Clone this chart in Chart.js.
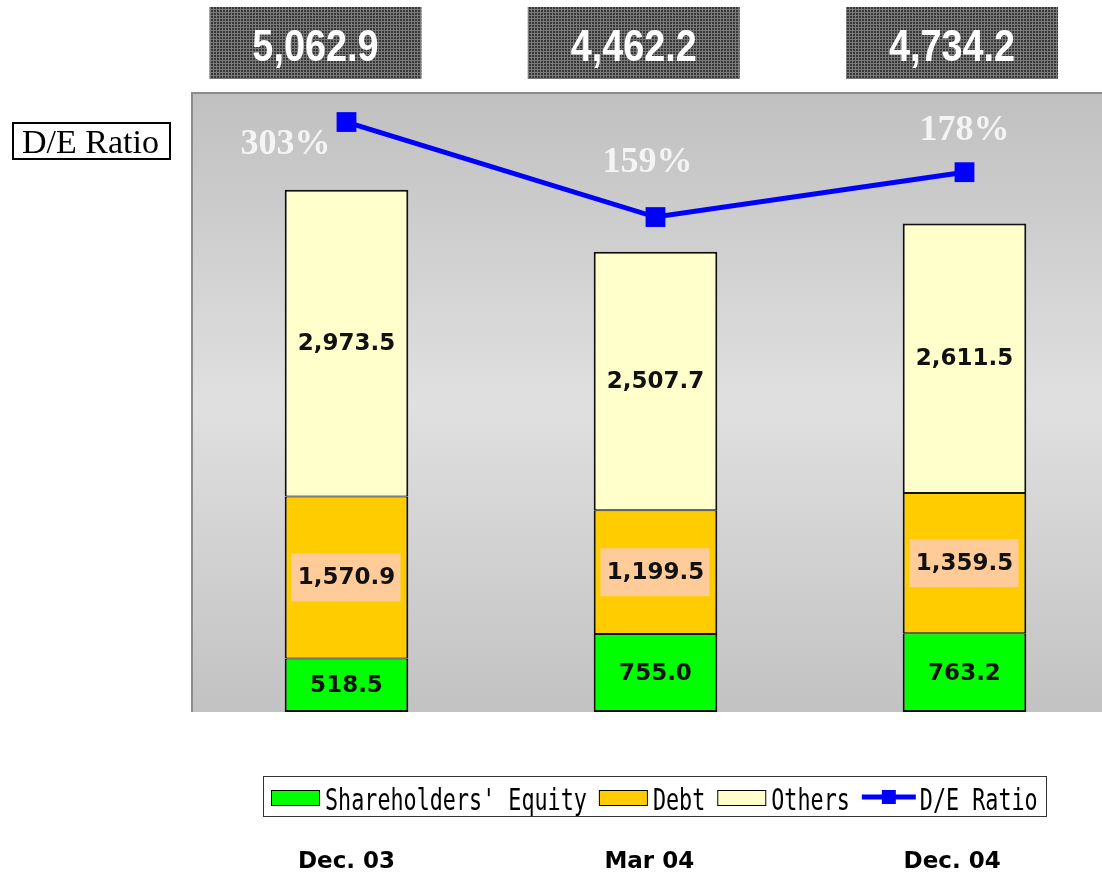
<!DOCTYPE html>
<html>
<head>
<meta charset="utf-8">
<title>D/E Ratio</title>
<script src="https://cdn.jsdelivr.net/npm/chart.js@4.4.1/dist/chart.umd.min.js"></script>
<style>
	html, body { margin: 0; padding: 0; background: #fff; overflow: hidden; }
</style>
</head>
<body>
<canvas id="deChart" width="1102" height="874"></canvas>
<script>
// values
const periods = ['Dec. 03', 'Mar 04', 'Dec. 04'];
const equity = [518.5, 755.0, 763.2];
const debt = [1570.9, 1199.5, 1359.5];
const others = [2973.5, 2507.7, 2611.5];
const ratioLabels = ['303%', '159%', '178%'];
// where the line points sit on the ratio axis
const ratioLine = [303, 159, 227];

function fmt(v)
{
	return v.toLocaleString('en-US', {minimumFractionDigits: 1, maximumFractionDigits: 1});
}

function points(arr)
{
	return arr.map(function(v, i) { return {x: i, y: v}; });
}

function ditherPattern(ctx)
{
	let c = document.createElement('canvas');
	c.width = 3;
	c.height = 3;
	let p = c.getContext('2d');
	p.fillStyle = '#383838';
	p.fillRect(0, 0, 3, 3);
	p.fillStyle = '#7a7a7a';
	p.fillRect(0, 0, 3, 1);
	p.fillRect(0, 0, 1, 3);
	return ctx.createPattern(c, 'repeat');
}

const plotBackground = {
	id: 'plotBackground',
	beforeDraw: function(chart)
	{
		let ctx = chart.ctx;
		let a = chart.chartArea;
		let g = ctx.createLinearGradient(0, a.top, 0, a.bottom);
		g.addColorStop(0, '#c0c0c0');
		g.addColorStop(0.5, '#e0e0e0');
		g.addColorStop(1, '#c2c2c2');
		ctx.save();
		ctx.fillStyle = g;
		ctx.fillRect(a.left, a.top, a.right - a.left, a.bottom - a.top);
		ctx.strokeStyle = '#8c8c8c';
		ctx.lineWidth = 2;
		ctx.beginPath();
		ctx.moveTo(a.left, a.bottom);
		ctx.lineTo(a.left, a.top);
		ctx.lineTo(a.right, a.top);
		ctx.stroke();
		ctx.restore();
	}
};

const segmentLabels = {
	id: 'segmentLabels',
	afterDatasetsDraw: function(chart)
	{
		let ctx = chart.ctx;
		ctx.save();
		ctx.font = 'bold 23px "DejaVu Sans"';
		ctx.textAlign = 'center';
		ctx.textBaseline = 'middle';
		chart.data.datasets.forEach(function(ds, di)
		{
			if (ds.type === 'line') return;
			chart.getDatasetMeta(di).data.forEach(function(bar, i)
			{
				let cy = (bar.y + bar.base) / 2;
				if (ds.label === 'Debt')
				{
					ctx.fillStyle = '#ffcc99';
					ctx.fillRect(bar.x - 55, cy - 24, 109, 48);
				}
				ctx.fillStyle = '#111';
				ctx.fillText(fmt(ds.data[i].y), bar.x, cy + 1);
			});
		});
		ctx.restore();
	}
};

const ratioText = {
	id: 'ratioText',
	afterDatasetsDraw: function(chart)
	{
		let ctx = chart.ctx;
		let meta = chart.getDatasetMeta(3);
		let place = [
			{dx: -16, dy: 32, align: 'right'},
			{dx: -8, dy: -45, align: 'center'},
			{dx: 0, dy: -32, align: 'center'}
		];
		ctx.save();
		ctx.font = 'bold 36px "Liberation Serif"';
		ctx.fillStyle = '#f4f4f4';
		ctx.textBaseline = 'alphabetic';
		meta.data.forEach(function(pt, i)
		{
			ctx.textAlign = place[i].align;
			ctx.fillText(ratioLabels[i], pt.x + place[i].dx, pt.y + place[i].dy);
		});
		ctx.restore();
	}
};

const decorations = {
	id: 'decorations',
	afterDraw: function(chart)
	{
		let ctx = chart.ctx;
		let x = chart.scales.x;
		let pattern = ditherPattern(ctx);
		ctx.save();

		// totals above the bars
		periods.forEach(function(p, i)
		{
			let total = equity[i] + debt[i] + others[i];
			let cx = x.getPixelForValue(i * 1.03) - 31;
			ctx.fillStyle = pattern;
			ctx.fillRect(cx - 106, 7, 212, 72);
			ctx.save();
			ctx.translate(cx, 61);
			ctx.scale(0.86, 1);
			ctx.font = 'bold 44px "Liberation Sans"';
			ctx.fillStyle = '#fff';
			ctx.textAlign = 'center';
			ctx.textBaseline = 'alphabetic';
			ctx.fillText(fmt(total), 0, 0);
			ctx.restore();
		});

		// category labels
		ctx.font = 'bold 23px "DejaVu Sans"';
		ctx.fillStyle = '#000';
		ctx.textAlign = 'center';
		ctx.textBaseline = 'alphabetic';
		chart.data.labels.forEach(function(lab, i)
		{
			ctx.fillText(lab, x.getPixelForValue(i * 0.98), 868);
		});

		// D/E Ratio tag
		ctx.strokeStyle = '#000';
		ctx.lineWidth = 2;
		ctx.strokeRect(13, 123, 157, 36);
		ctx.font = '34px "Liberation Serif"';
		ctx.textAlign = 'left';
		ctx.fillText('D/E Ratio', 22, 153);

		// legend
		ctx.lineWidth = 1;
		ctx.strokeStyle = '#333';
		ctx.strokeRect(263.5, 776.5, 783, 40);
		let cur = 271;
		let sx = 0.725;
		ctx.font = '30px "DejaVu Sans Mono"';
		[0, 1, 2, 3].forEach(function(di)
		{
			let ds = chart.data.datasets[di];
			if (ds.type === 'line')
			{
				ctx.strokeStyle = ds.borderColor;
				ctx.lineWidth = 5;
				ctx.beginPath();
				ctx.moveTo(cur, 797);
				ctx.lineTo(cur + 54, 797);
				ctx.stroke();
				ctx.fillStyle = ds.borderColor;
				ctx.fillRect(cur + 27 - 7, 790, 14, 14);
				cur += 58;
			}
			else
			{
				ctx.fillStyle = ds.backgroundColor;
				ctx.fillRect(cur, 790, 48, 15);
				ctx.strokeStyle = '#000';
				ctx.lineWidth = 1;
				ctx.strokeRect(cur + 0.5, 790.5, 48, 15);
				cur += 54;
			}
			ctx.save();
			ctx.translate(cur, 810);
			ctx.scale(sx, 1);
			ctx.fillStyle = '#000';
			ctx.fillText(ds.label, 0, 0);
			ctx.restore();
			cur += ctx.measureText(ds.label).width * sx + 12;
		});

		ctx.restore();
	}
};

let ctx = document.getElementById('deChart').getContext('2d');
let deChart = new Chart(ctx, {
	type: 'bar',
	data: {
		labels: periods,
		datasets: [
			{
				label: "Shareholders' Equity",
				data: points(equity),
				backgroundColor: '#00ff00',
				borderColor: '#111',
				borderWidth: {left: 2, right: 2, top: 1, bottom: 2},
				borderSkipped: false,
				order: 1
			},
			{
				label: 'Debt',
				data: points(debt),
				backgroundColor: '#ffcc00',
				borderColor: '#111',
				borderWidth: {left: 2, right: 2, top: 1, bottom: 1},
				borderSkipped: false,
				order: 1
			},
			{
				label: 'Others',
				data: points(others),
				backgroundColor: '#ffffcc',
				borderColor: '#111',
				borderWidth: {left: 2, right: 2, top: 2, bottom: 1},
				borderSkipped: false,
				order: 1
			},
			{
				type: 'line',
				label: 'D/E Ratio',
				data: points(ratioLine),
				yAxisID: 'y2',
				borderColor: '#0000ff',
				backgroundColor: '#0000ff',
				borderWidth: 5,
				pointStyle: 'rect',
				pointRadius: 14,
				pointBorderWidth: 0,
				pointBackgroundColor: '#0000ff',
				tension: 0,
				order: 0
			}
		]
	},
	options: {
		responsive: false,
		animation: false,
		devicePixelRatio: 1,
		layout: {
			autoPadding: false,
			padding: {left: 192, top: 93, right: 0, bottom: 162}
		},
		datasets: {
			bar: {categoryPercentage: 1, barPercentage: 0.4}
		},
		scales: {
			// plot area runs a little past the right edge of the picture
			x: {
				type: 'linear',
				stacked: true,
				display: false,
				offset: false,
				min: -0.5,
				max: 2.445,
				afterBuildTicks: function(scale)
				{
					scale.ticks = periods.map(function(p, i) { return {value: i}; });
				}
			},
			y: {stacked: true, display: false, min: 0, max: 6000},
			y2: {display: false, min: -591, max: 347}
		},
		plugins: {
			legend: {display: false},
			tooltip: {enabled: false}
		}
	},
	plugins: [plotBackground, segmentLabels, ratioText, decorations]
});
</script>
</body>
</html>
